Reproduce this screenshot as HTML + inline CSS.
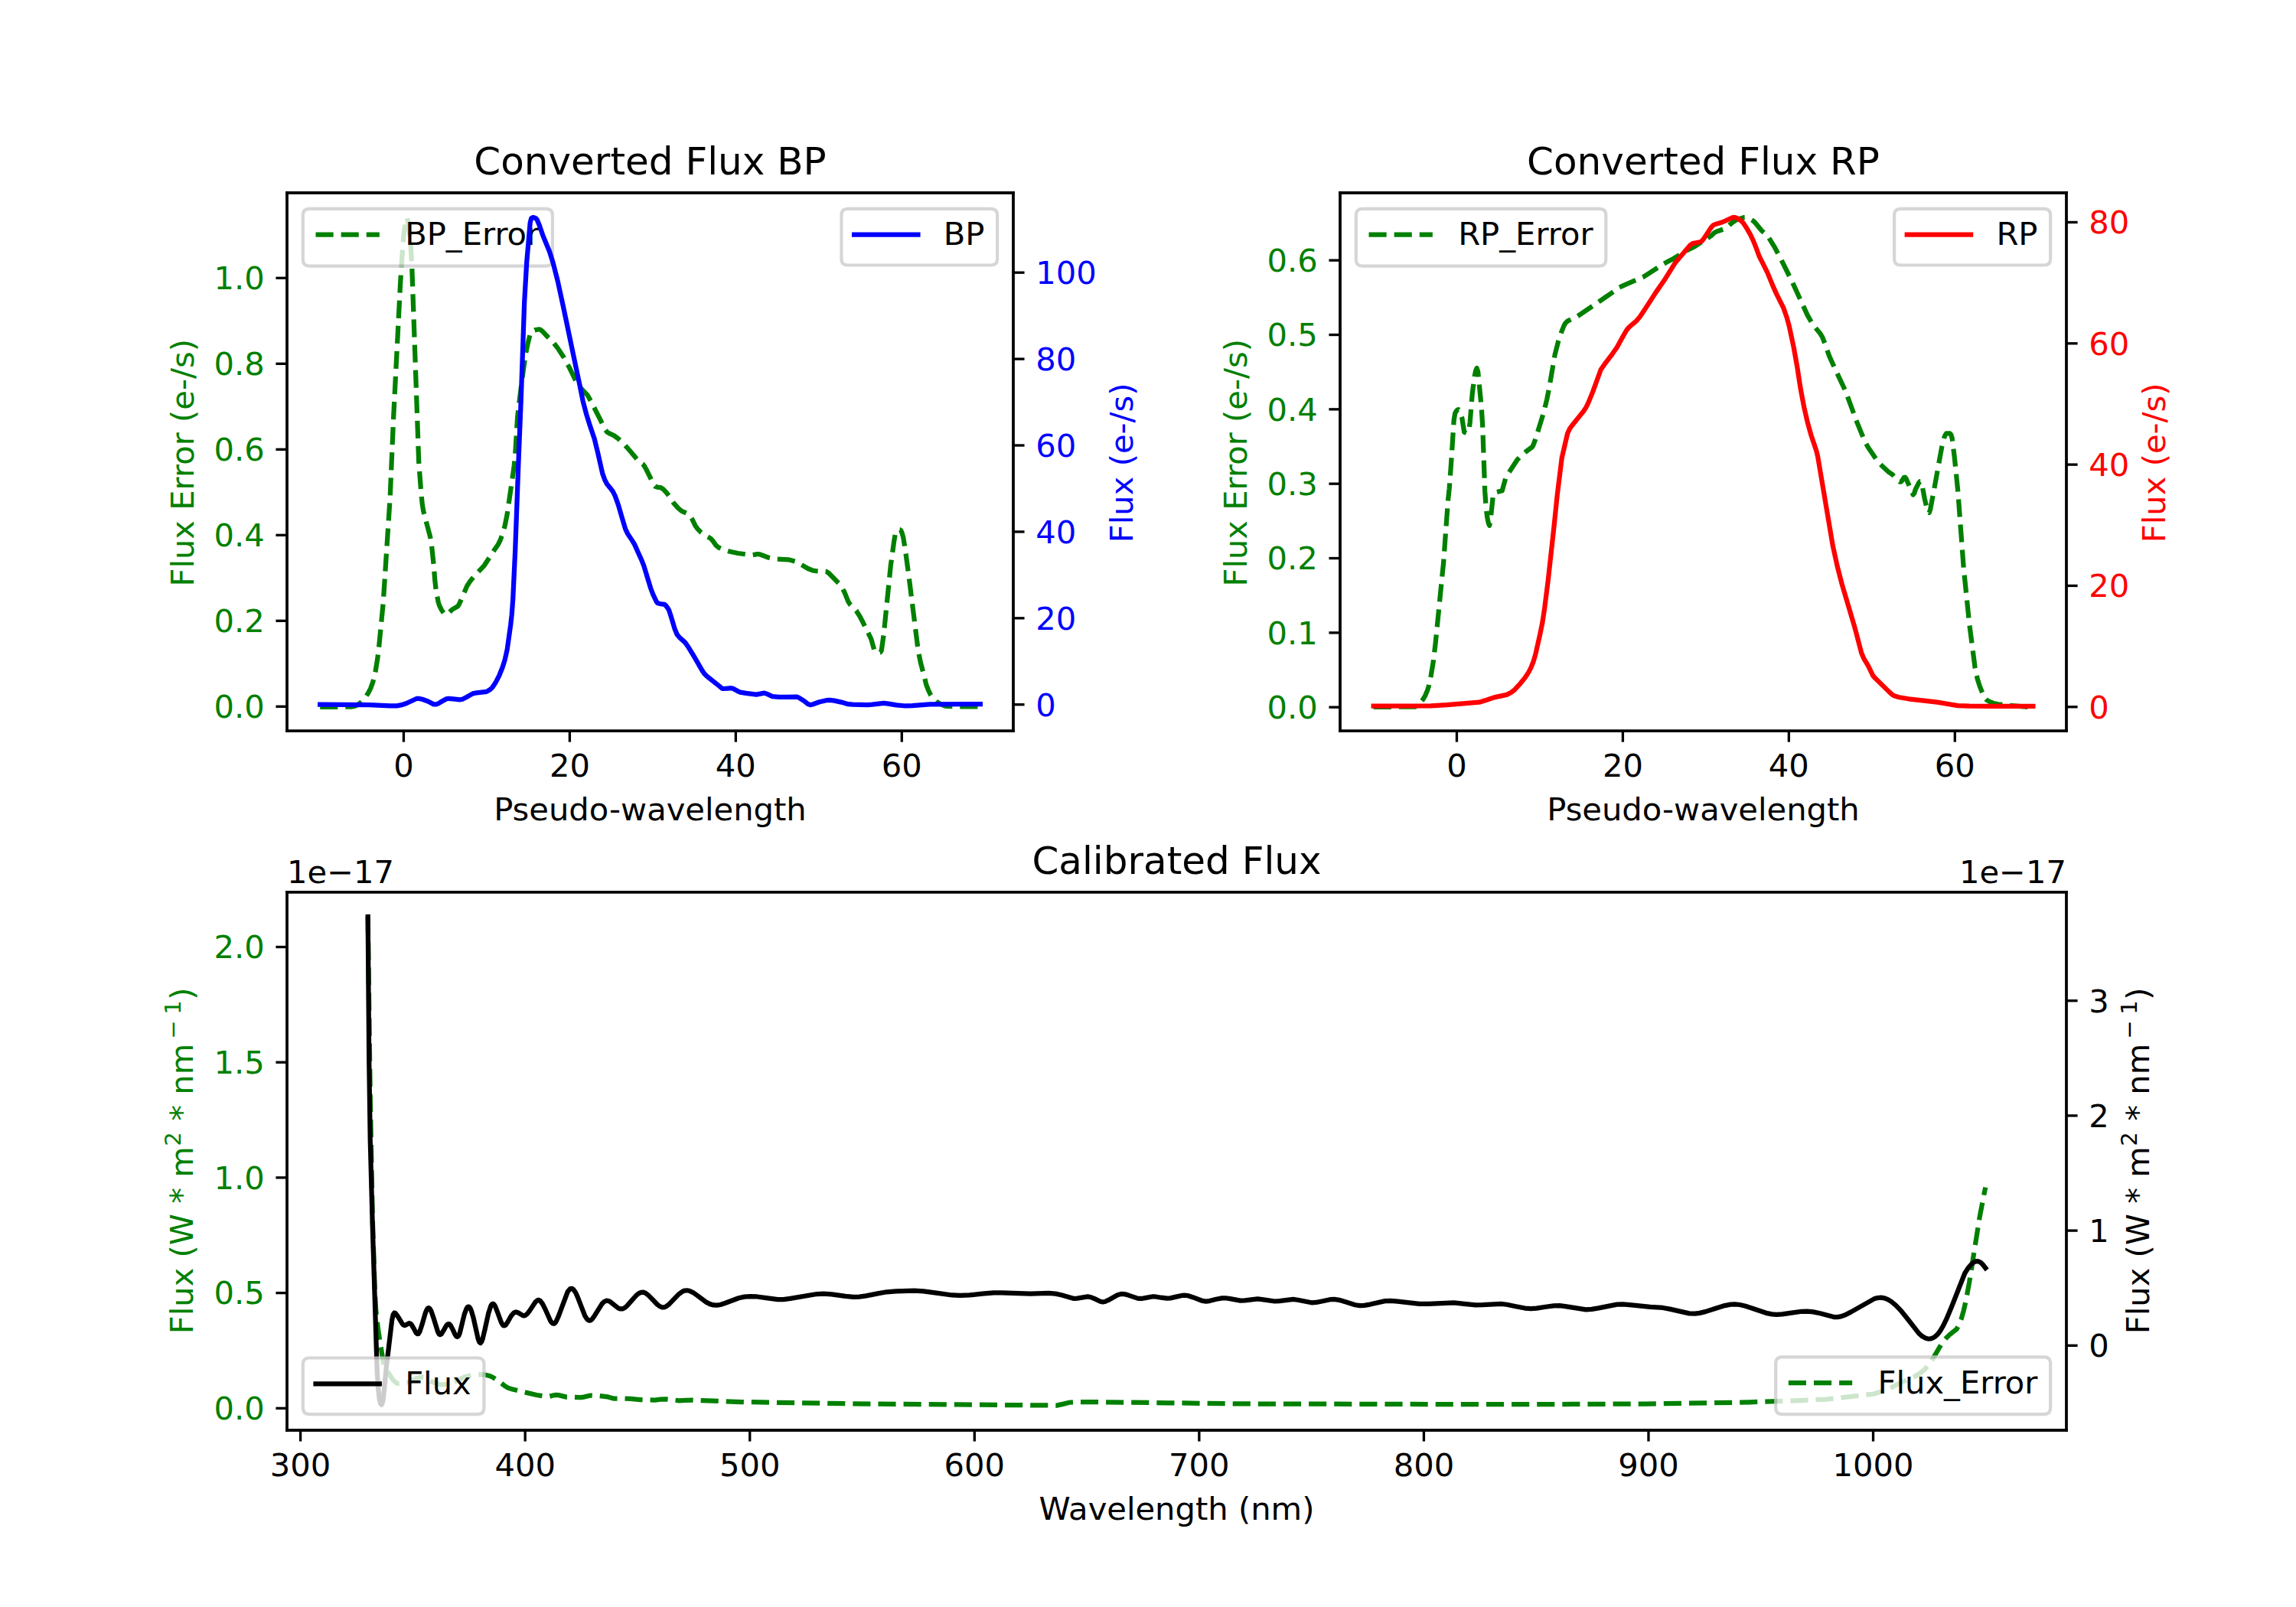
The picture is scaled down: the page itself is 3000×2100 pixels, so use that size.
<!DOCTYPE html>
<html><head><meta charset="utf-8"><title>Gaia XP spectra</title>
<style>html,body{margin:0;padding:0;background:#fff;width:3000px;height:2100px}svg{display:block}
svg text{font-family:"DejaVu Sans","Liberation Sans",sans-serif}</style></head>
<body>
<svg width="3000" height="2100" viewBox="0 0 720 504" version="1.1">
 <defs>
  <style type="text/css">*{stroke-linejoin: round; stroke-linecap: butt}</style>
 </defs>
 <g id="figure_1">
  <g id="patch_1">
   <path d="M 0 504 
L 720 504 
L 720 0 
L 0 0 
z
" style="fill: #ffffff"/>
  </g>
  <g id="axes_1">
   <g id="patch_2">
    <path d="M 90 229.210435 
L 317.755102 229.210435 
L 317.755102 60.48 
L 90 60.48 
z
" style="fill: #ffffff"/>
   </g>
   <g id="matplotlib.axis_1">
    <g id="xtick_1">
     <g id="line2d_1">
      <defs>
       <path id="m1504cfccaf" d="M 0 0 
L 0 3.5 
" style="stroke: #000000; stroke-width: 0.8"/>
      </defs>
      <g>
       <use href="#m1504cfccaf" x="126.583694" y="229.210435" style="stroke: #000000; stroke-width: 0.8"/>
      </g>
     </g>
     <g id="text_1">
      <text style="font-size: 10px; font-family: 'DejaVu Sans', 'Bitstream Vera Sans', 'Computer Modern Sans Serif', 'Lucida Grande', 'Verdana', 'Geneva', 'Lucid', 'Arial', 'Helvetica', 'Avant Garde', sans-serif; text-anchor: middle" x="126.583694" y="243.568872" transform="rotate(-0 126.583694 243.808872)">0</text>
     </g>
    </g>
    <g id="xtick_2">
     <g id="line2d_2">
      <g>
       <use href="#m1504cfccaf" x="178.652714" y="229.210435" style="stroke: #000000; stroke-width: 0.8"/>
      </g>
     </g>
     <g id="text_2">
      <text style="font-size: 10px; font-family: 'DejaVu Sans', 'Bitstream Vera Sans', 'Computer Modern Sans Serif', 'Lucida Grande', 'Verdana', 'Geneva', 'Lucid', 'Arial', 'Helvetica', 'Avant Garde', sans-serif; text-anchor: middle" x="178.652714" y="243.568872" transform="rotate(-0 178.652714 243.808872)">20</text>
     </g>
    </g>
    <g id="xtick_3">
     <g id="line2d_3">
      <g>
       <use href="#m1504cfccaf" x="230.721734" y="229.210435" style="stroke: #000000; stroke-width: 0.8"/>
      </g>
     </g>
     <g id="text_3">
      <text style="font-size: 10px; font-family: 'DejaVu Sans', 'Bitstream Vera Sans', 'Computer Modern Sans Serif', 'Lucida Grande', 'Verdana', 'Geneva', 'Lucid', 'Arial', 'Helvetica', 'Avant Garde', sans-serif; text-anchor: middle" x="230.721734" y="243.568872" transform="rotate(-0 230.721734 243.808872)">40</text>
     </g>
    </g>
    <g id="xtick_4">
     <g id="line2d_4">
      <g>
       <use href="#m1504cfccaf" x="282.790755" y="229.210435" style="stroke: #000000; stroke-width: 0.8"/>
      </g>
     </g>
     <g id="text_4">
      <text style="font-size: 10px; font-family: 'DejaVu Sans', 'Bitstream Vera Sans', 'Computer Modern Sans Serif', 'Lucida Grande', 'Verdana', 'Geneva', 'Lucid', 'Arial', 'Helvetica', 'Avant Garde', sans-serif; text-anchor: middle" x="282.790755" y="243.568872" transform="rotate(-0 282.790755 243.808872)">60</text>
     </g>
    </g>
    <g id="text_5">
     <text style="font-size: 10px; font-family: 'DejaVu Sans', 'Bitstream Vera Sans', 'Computer Modern Sans Serif', 'Lucida Grande', 'Verdana', 'Geneva', 'Lucid', 'Arial', 'Helvetica', 'Avant Garde', sans-serif; text-anchor: middle" x="203.877551" y="257.246997" transform="rotate(-0 203.877551 257.486997)">Pseudo-wavelength</text>
    </g>
   </g>
   <g id="matplotlib.axis_2">
    <g id="ytick_1">
     <g id="line2d_5">
      <defs>
       <path id="m5d545ce8f8" d="M 0 0 
L -3.5 0 
" style="stroke: #000000; stroke-width: 0.8"/>
      </defs>
      <g>
       <use href="#m5d545ce8f8" x="90" y="221.590351" style="stroke: #000000; stroke-width: 0.8"/>
      </g>
     </g>
     <g id="text_6">
      <text style="font-size: 10px; font-family: 'DejaVu Sans', 'Bitstream Vera Sans', 'Computer Modern Sans Serif', 'Lucida Grande', 'Verdana', 'Geneva', 'Lucid', 'Arial', 'Helvetica', 'Avant Garde', sans-serif; text-anchor: end; fill: #008000" x="83" y="225.149569" transform="rotate(-0 83 225.389569)">0.0</text>
     </g>
    </g>
    <g id="ytick_2">
     <g id="line2d_6">
      <g>
       <use href="#m5d545ce8f8" x="90" y="194.711747" style="stroke: #000000; stroke-width: 0.8"/>
      </g>
     </g>
     <g id="text_7">
      <text style="font-size: 10px; font-family: 'DejaVu Sans', 'Bitstream Vera Sans', 'Computer Modern Sans Serif', 'Lucida Grande', 'Verdana', 'Geneva', 'Lucid', 'Arial', 'Helvetica', 'Avant Garde', sans-serif; text-anchor: end; fill: #008000" x="83" y="198.270966" transform="rotate(-0 83 198.510966)">0.2</text>
     </g>
    </g>
    <g id="ytick_3">
     <g id="line2d_7">
      <g>
       <use href="#m5d545ce8f8" x="90" y="167.833143" style="stroke: #000000; stroke-width: 0.8"/>
      </g>
     </g>
     <g id="text_8">
      <text style="font-size: 10px; font-family: 'DejaVu Sans', 'Bitstream Vera Sans', 'Computer Modern Sans Serif', 'Lucida Grande', 'Verdana', 'Geneva', 'Lucid', 'Arial', 'Helvetica', 'Avant Garde', sans-serif; text-anchor: end; fill: #008000" x="83" y="171.392362" transform="rotate(-0 83 171.632362)">0.4</text>
     </g>
    </g>
    <g id="ytick_4">
     <g id="line2d_8">
      <g>
       <use href="#m5d545ce8f8" x="90" y="140.95454" style="stroke: #000000; stroke-width: 0.8"/>
      </g>
     </g>
     <g id="text_9">
      <text style="font-size: 10px; font-family: 'DejaVu Sans', 'Bitstream Vera Sans', 'Computer Modern Sans Serif', 'Lucida Grande', 'Verdana', 'Geneva', 'Lucid', 'Arial', 'Helvetica', 'Avant Garde', sans-serif; text-anchor: end; fill: #008000" x="83" y="144.513758" transform="rotate(-0 83 144.753758)">0.6</text>
     </g>
    </g>
    <g id="ytick_5">
     <g id="line2d_9">
      <g>
       <use href="#m5d545ce8f8" x="90" y="114.075936" style="stroke: #000000; stroke-width: 0.8"/>
      </g>
     </g>
     <g id="text_10">
      <text style="font-size: 10px; font-family: 'DejaVu Sans', 'Bitstream Vera Sans', 'Computer Modern Sans Serif', 'Lucida Grande', 'Verdana', 'Geneva', 'Lucid', 'Arial', 'Helvetica', 'Avant Garde', sans-serif; text-anchor: end; fill: #008000" x="83" y="117.635155" transform="rotate(-0 83 117.875155)">0.8</text>
     </g>
    </g>
    <g id="ytick_6">
     <g id="line2d_10">
      <g>
       <use href="#m5d545ce8f8" x="90" y="87.197332" style="stroke: #000000; stroke-width: 0.8"/>
      </g>
     </g>
     <g id="text_11">
      <text style="font-size: 10px; font-family: 'DejaVu Sans', 'Bitstream Vera Sans', 'Computer Modern Sans Serif', 'Lucida Grande', 'Verdana', 'Geneva', 'Lucid', 'Arial', 'Helvetica', 'Avant Garde', sans-serif; text-anchor: end; fill: #008000" x="83" y="90.756551" transform="rotate(-0 83 90.996551)">1.0</text>
     </g>
    </g>
    <g id="text_12">
     <text style="font-size: 10px; font-family: 'DejaVu Sans', 'Bitstream Vera Sans', 'Computer Modern Sans Serif', 'Lucida Grande', 'Verdana', 'Geneva', 'Lucid', 'Arial', 'Helvetica', 'Avant Garde', sans-serif; text-anchor: middle; fill: #008000" x="60.707187" y="144.585217" transform="rotate(-90 61.017187 144.845217)">Flux Error (e-/s)</text>
    </g>
   </g>
   <g id="line2d_11">
    <path d="M 100.368 221.76 
L 110.088 221.655178 
L 111.168 221.508845 
L 111.888 221.192961 
L 112.968 220.471479 
L 113.688 219.787422 
L 114.768 218.418411 
L 115.488 217.316316 
L 116.208 215.892247 
L 116.928 213.947387 
L 117.648 211.105218 
L 118.368 206.724656 
L 118.728 203.964343 
L 120.168 189.102628 
L 122.328 155.94197 
L 123.408 130.761785 
L 125.568 88.531107 
L 126.288 77.512393 
L 126.648 73.215224 
L 127.008 70.425944 
L 127.368 68.554598 
L 127.728 68.409049 
L 128.088 70.534382 
L 128.448 73.397041 
L 128.808 77.446902 
L 129.168 83.462753 
L 131.328 144.846391 
L 132.048 154.422937 
L 132.408 158.039605 
L 132.768 160.272798 
L 133.488 163.029381 
L 134.928 168.414095 
L 135.288 170.446313 
L 136.008 177.175679 
L 136.368 181.844231 
L 136.728 185.059531 
L 137.448 188.836722 
L 137.808 190.006542 
L 138.528 191.411108 
L 139.248 192.41304 
L 139.608 192.68731 
L 139.968 192.76563 
L 140.328 192.615759 
L 141.048 191.894228 
L 141.768 191.200002 
L 143.568 190.15223 
L 143.928 189.611402 
L 145.368 186.339021 
L 146.448 183.797256 
L 147.528 182.139603 
L 148.968 180.41494 
L 151.848 177.37005 
L 155.088 172.385348 
L 156.168 170.83166 
L 156.888 169.380272 
L 157.608 167.429242 
L 158.328 164.854128 
L 159.048 161.238534 
L 160.848 148.774904 
L 161.208 146.189763 
L 161.568 142.496314 
L 162.288 130.708738 
L 163.008 124.618104 
L 164.088 116.330141 
L 164.808 111.168 
L 165.528 107.721038 
L 166.248 104.827228 
L 166.608 104.024917 
L 167.688 103.51768 
L 168.768 103.308834 
L 169.128 103.296 
L 169.488 103.396329 
L 170.208 104.027973 
L 171.648 105.541509 
L 173.448 107.342105 
L 174.888 109.162265 
L 176.688 111.90978 
L 178.488 115.181159 
L 179.568 117.398652 
L 181.008 120.384834 
L 181.728 121.33147 
L 184.248 123.943258 
L 185.328 125.867088 
L 188.208 131.54164 
L 189.648 134.519329 
L 190.368 135.493028 
L 191.088 135.936625 
L 192.528 136.589534 
L 193.968 137.66324 
L 195.768 139.344898 
L 197.208 141.007654 
L 200.088 144.44111 
L 200.808 145.079894 
L 201.528 145.522684 
L 201.888 145.905877 
L 202.608 147.118859 
L 205.128 152.183891 
L 205.488 152.60154 
L 206.208 152.788612 
L 207.288 152.95744 
L 208.008 153.428861 
L 209.088 154.592779 
L 209.808 155.548397 
L 211.248 157.776 
L 212.688 159.391359 
L 213.768 160.281067 
L 214.848 160.753413 
L 215.928 161.230223 
L 216.288 161.534457 
L 217.008 162.763662 
L 218.088 164.990066 
L 218.808 165.934827 
L 219.888 167.016355 
L 220.968 167.798561 
L 222.768 168.805365 
L 223.488 169.563078 
L 224.568 171.099812 
L 225.288 171.671008 
L 226.728 172.330839 
L 228.888 172.994396 
L 231.408 173.514858 
L 234.288 173.900687 
L 236.088 174.02389 
L 236.808 173.916621 
L 237.528 173.766526 
L 238.248 173.834615 
L 239.328 174.240381 
L 240.768 174.804063 
L 242.928 175.283178 
L 247.248 175.510386 
L 249.408 176.061892 
L 250.128 176.394662 
L 253.368 178.32243 
L 254.808 178.912502 
L 255.888 179.06993 
L 259.128 179.242281 
L 259.848 179.707401 
L 263.088 183.017511 
L 264.168 184.458608 
L 264.888 185.886706 
L 265.968 188.625646 
L 266.688 189.698781 
L 268.488 191.534031 
L 269.568 193.198878 
L 270.648 195.243124 
L 273.168 200.364544 
L 274.248 204.198318 
L 274.608 204.566792 
L 275.328 204.719458 
L 276.048 204.581647 
L 276.408 204.10418 
L 277.128 198.987981 
L 278.568 184.696914 
L 279.288 177.576 
L 280.368 169.717014 
L 280.728 167.57153 
L 281.088 166.752598 
L 281.448 166.240876 
L 281.808 166.080583 
L 282.168 166.118025 
L 282.528 166.335997 
L 282.888 167.229536 
L 283.248 168.494254 
L 283.968 173.033744 
L 285.048 181.060428 
L 287.928 204.026548 
L 288.648 207.620808 
L 289.728 211.709242 
L 290.448 214.700541 
L 291.168 216.578775 
L 291.888 218.010958 
L 292.608 219.004625 
L 293.688 220.049352 
L 294.768 220.740459 
L 296.208 221.379255 
L 296.928 221.518714 
L 301.608 221.638521 
L 307.416 221.64 
L 307.416 221.64 
" clip-path="url(#ped18cb847b)" style="fill: none; stroke-dasharray: 5.55,2.4; stroke-dashoffset: 0; stroke: #008000; stroke-width: 1.5"/>
   </g>
   <g id="patch_3">
    <path d="M 90 229.210435 
L 90 60.48 
" style="fill: none; stroke: #000000; stroke-width: 0.8; stroke-linejoin: miter; stroke-linecap: square"/>
   </g>
   <g id="patch_4">
    <path d="M 317.755102 229.210435 
L 317.755102 60.48 
" style="fill: none; stroke: #000000; stroke-width: 0.8; stroke-linejoin: miter; stroke-linecap: square"/>
   </g>
   <g id="patch_5">
    <path d="M 90 229.210435 
L 317.755102 229.210435 
" style="fill: none; stroke: #000000; stroke-width: 0.8; stroke-linejoin: miter; stroke-linecap: square"/>
   </g>
   <g id="patch_6">
    <path d="M 90 60.48 
L 317.755102 60.48 
" style="fill: none; stroke: #000000; stroke-width: 0.8; stroke-linejoin: miter; stroke-linecap: square"/>
   </g>
   <g id="text_13">
    <text style="font-size: 12px; font-family: 'DejaVu Sans', 'Bitstream Vera Sans', 'Computer Modern Sans Serif', 'Lucida Grande', 'Verdana', 'Geneva', 'Lucid', 'Arial', 'Helvetica', 'Avant Garde', sans-serif; text-anchor: middle" x="203.877551" y="54.680000" transform="rotate(-0 203.877551 54.48)">Converted Flux BP</text>
   </g>
   <g id="legend_1">
    <g id="patch_7">
     <path d="M 97 83.43625 
L 171.260938 83.43625 
Q 173.260938 83.43625 173.260938 81.43625 
L 173.260938 67.48 
Q 173.260938 65.48 171.260938 65.48 
L 97 65.48 
Q 95 65.48 95 67.48 
L 95 81.43625 
Q 95 83.43625 97 83.43625 
z
" style="fill: #ffffff; opacity: 0.8; stroke: #cccccc; stroke-linejoin: miter"/>
    </g>
    <g id="line2d_12">
     <path d="M 99 73.578438 
L 109 73.578438 
L 119 73.578438 
" style="fill: none; stroke-dasharray: 5.55,2.4; stroke-dashoffset: 0; stroke: #008000; stroke-width: 1.5"/>
    </g>
    <g id="text_14">
     <text style="font-size: 10px; font-family: 'DejaVu Sans', 'Bitstream Vera Sans', 'Computer Modern Sans Serif', 'Lucida Grande', 'Verdana', 'Geneva', 'Lucid', 'Arial', 'Helvetica', 'Avant Garde', sans-serif; text-anchor: start" x="127" y="76.838438" transform="rotate(-0 127 77.078438)">BP_Error</text>
    </g>
   </g>
  </g>
  <g id="axes_2">
   <g id="patch_8">
    <path d="M 420.244898 229.210435 
L 648 229.210435 
L 648 60.48 
L 420.244898 60.48 
z
" style="fill: #ffffff"/>
   </g>
   <g id="matplotlib.axis_3">
    <g id="xtick_5">
     <g id="line2d_13">
      <g>
       <use href="#m1504cfccaf" x="456.828592" y="229.210435" style="stroke: #000000; stroke-width: 0.8"/>
      </g>
     </g>
     <g id="text_15">
      <text style="font-size: 10px; font-family: 'DejaVu Sans', 'Bitstream Vera Sans', 'Computer Modern Sans Serif', 'Lucida Grande', 'Verdana', 'Geneva', 'Lucid', 'Arial', 'Helvetica', 'Avant Garde', sans-serif; text-anchor: middle" x="456.828592" y="243.568872" transform="rotate(-0 456.828592 243.808872)">0</text>
     </g>
    </g>
    <g id="xtick_6">
     <g id="line2d_14">
      <g>
       <use href="#m1504cfccaf" x="508.897612" y="229.210435" style="stroke: #000000; stroke-width: 0.8"/>
      </g>
     </g>
     <g id="text_16">
      <text style="font-size: 10px; font-family: 'DejaVu Sans', 'Bitstream Vera Sans', 'Computer Modern Sans Serif', 'Lucida Grande', 'Verdana', 'Geneva', 'Lucid', 'Arial', 'Helvetica', 'Avant Garde', sans-serif; text-anchor: middle" x="508.897612" y="243.568872" transform="rotate(-0 508.897612 243.808872)">20</text>
     </g>
    </g>
    <g id="xtick_7">
     <g id="line2d_15">
      <g>
       <use href="#m1504cfccaf" x="560.966632" y="229.210435" style="stroke: #000000; stroke-width: 0.8"/>
      </g>
     </g>
     <g id="text_17">
      <text style="font-size: 10px; font-family: 'DejaVu Sans', 'Bitstream Vera Sans', 'Computer Modern Sans Serif', 'Lucida Grande', 'Verdana', 'Geneva', 'Lucid', 'Arial', 'Helvetica', 'Avant Garde', sans-serif; text-anchor: middle" x="560.966632" y="243.568872" transform="rotate(-0 560.966632 243.808872)">40</text>
     </g>
    </g>
    <g id="xtick_8">
     <g id="line2d_16">
      <g>
       <use href="#m1504cfccaf" x="613.035653" y="229.210435" style="stroke: #000000; stroke-width: 0.8"/>
      </g>
     </g>
     <g id="text_18">
      <text style="font-size: 10px; font-family: 'DejaVu Sans', 'Bitstream Vera Sans', 'Computer Modern Sans Serif', 'Lucida Grande', 'Verdana', 'Geneva', 'Lucid', 'Arial', 'Helvetica', 'Avant Garde', sans-serif; text-anchor: middle" x="613.035653" y="243.568872" transform="rotate(-0 613.035653 243.808872)">60</text>
     </g>
    </g>
    <g id="text_19">
     <text style="font-size: 10px; font-family: 'DejaVu Sans', 'Bitstream Vera Sans', 'Computer Modern Sans Serif', 'Lucida Grande', 'Verdana', 'Geneva', 'Lucid', 'Arial', 'Helvetica', 'Avant Garde', sans-serif; text-anchor: middle" x="534.122449" y="257.246997" transform="rotate(-0 534.122449 257.486997)">Pseudo-wavelength</text>
    </g>
   </g>
   <g id="matplotlib.axis_4">
    <g id="ytick_7">
     <g id="line2d_17">
      <g>
       <use href="#m5d545ce8f8" x="420.244898" y="221.805264" style="stroke: #000000; stroke-width: 0.8"/>
      </g>
     </g>
     <g id="text_20">
      <text style="font-size: 10px; font-family: 'DejaVu Sans', 'Bitstream Vera Sans', 'Computer Modern Sans Serif', 'Lucida Grande', 'Verdana', 'Geneva', 'Lucid', 'Arial', 'Helvetica', 'Avant Garde', sans-serif; text-anchor: end; fill: #008000" x="413.244898" y="225.364483" transform="rotate(-0 413.244898 225.604483)">0.0</text>
     </g>
    </g>
    <g id="ytick_8">
     <g id="line2d_18">
      <g>
       <use href="#m5d545ce8f8" x="420.244898" y="198.445104" style="stroke: #000000; stroke-width: 0.8"/>
      </g>
     </g>
     <g id="text_21">
      <text style="font-size: 10px; font-family: 'DejaVu Sans', 'Bitstream Vera Sans', 'Computer Modern Sans Serif', 'Lucida Grande', 'Verdana', 'Geneva', 'Lucid', 'Arial', 'Helvetica', 'Avant Garde', sans-serif; text-anchor: end; fill: #008000" x="413.244898" y="202.004323" transform="rotate(-0 413.244898 202.244323)">0.1</text>
     </g>
    </g>
    <g id="ytick_9">
     <g id="line2d_19">
      <g>
       <use href="#m5d545ce8f8" x="420.244898" y="175.084944" style="stroke: #000000; stroke-width: 0.8"/>
      </g>
     </g>
     <g id="text_22">
      <text style="font-size: 10px; font-family: 'DejaVu Sans', 'Bitstream Vera Sans', 'Computer Modern Sans Serif', 'Lucida Grande', 'Verdana', 'Geneva', 'Lucid', 'Arial', 'Helvetica', 'Avant Garde', sans-serif; text-anchor: end; fill: #008000" x="413.244898" y="178.644163" transform="rotate(-0 413.244898 178.884163)">0.2</text>
     </g>
    </g>
    <g id="ytick_10">
     <g id="line2d_20">
      <g>
       <use href="#m5d545ce8f8" x="420.244898" y="151.724784" style="stroke: #000000; stroke-width: 0.8"/>
      </g>
     </g>
     <g id="text_23">
      <text style="font-size: 10px; font-family: 'DejaVu Sans', 'Bitstream Vera Sans', 'Computer Modern Sans Serif', 'Lucida Grande', 'Verdana', 'Geneva', 'Lucid', 'Arial', 'Helvetica', 'Avant Garde', sans-serif; text-anchor: end; fill: #008000" x="413.244898" y="155.284003" transform="rotate(-0 413.244898 155.524003)">0.3</text>
     </g>
    </g>
    <g id="ytick_11">
     <g id="line2d_21">
      <g>
       <use href="#m5d545ce8f8" x="420.244898" y="128.364625" style="stroke: #000000; stroke-width: 0.8"/>
      </g>
     </g>
     <g id="text_24">
      <text style="font-size: 10px; font-family: 'DejaVu Sans', 'Bitstream Vera Sans', 'Computer Modern Sans Serif', 'Lucida Grande', 'Verdana', 'Geneva', 'Lucid', 'Arial', 'Helvetica', 'Avant Garde', sans-serif; text-anchor: end; fill: #008000" x="413.244898" y="131.923843" transform="rotate(-0 413.244898 132.163843)">0.4</text>
     </g>
    </g>
    <g id="ytick_12">
     <g id="line2d_22">
      <g>
       <use href="#m5d545ce8f8" x="420.244898" y="105.004465" style="stroke: #000000; stroke-width: 0.8"/>
      </g>
     </g>
     <g id="text_25">
      <text style="font-size: 10px; font-family: 'DejaVu Sans', 'Bitstream Vera Sans', 'Computer Modern Sans Serif', 'Lucida Grande', 'Verdana', 'Geneva', 'Lucid', 'Arial', 'Helvetica', 'Avant Garde', sans-serif; text-anchor: end; fill: #008000" x="413.244898" y="108.563683" transform="rotate(-0 413.244898 108.803683)">0.5</text>
     </g>
    </g>
    <g id="ytick_13">
     <g id="line2d_23">
      <g>
       <use href="#m5d545ce8f8" x="420.244898" y="81.644305" style="stroke: #000000; stroke-width: 0.8"/>
      </g>
     </g>
     <g id="text_26">
      <text style="font-size: 10px; font-family: 'DejaVu Sans', 'Bitstream Vera Sans', 'Computer Modern Sans Serif', 'Lucida Grande', 'Verdana', 'Geneva', 'Lucid', 'Arial', 'Helvetica', 'Avant Garde', sans-serif; text-anchor: end; fill: #008000" x="413.244898" y="85.203524" transform="rotate(-0 413.244898 85.443524)">0.6</text>
     </g>
    </g>
    <g id="text_27">
     <text style="font-size: 10px; font-family: 'DejaVu Sans', 'Bitstream Vera Sans', 'Computer Modern Sans Serif', 'Lucida Grande', 'Verdana', 'Geneva', 'Lucid', 'Arial', 'Helvetica', 'Avant Garde', sans-serif; text-anchor: middle; fill: #008000" x="390.952085" y="144.585217" transform="rotate(-90 391.262085 144.845217)">Flux Error (e-/s)</text>
    </g>
   </g>
   <g id="line2d_24">
    <path d="M 430.728 221.712 
L 443.688 221.685042 
L 444.408 221.324688 
L 445.128 220.660631 
L 446.208 219.397143 
L 446.928 218.170789 
L 447.648 216.454757 
L 448.008 215.318401 
L 448.728 211.939174 
L 449.448 207.633169 
L 450.168 201.595428 
L 452.328 179.824576 
L 452.688 176.374177 
L 453.408 166.110347 
L 454.128 156.480732 
L 454.488 153.176607 
L 455.208 143.238397 
L 455.928 131.794642 
L 456.288 129.623477 
L 456.648 128.970253 
L 457.008 128.575409 
L 457.368 128.426057 
L 457.728 128.743746 
L 458.448 130.968 
L 459.168 135.524733 
L 459.888 135.837226 
L 460.248 135.722774 
L 460.608 135.255944 
L 460.968 132.503805 
L 461.688 123.536761 
L 462.408 117.946849 
L 462.768 116.224955 
L 463.128 115.463067 
L 463.488 116.679712 
L 464.568 127.725828 
L 464.928 133.461536 
L 465.648 154.074729 
L 466.008 159.215642 
L 466.368 162.165282 
L 466.728 163.962427 
L 467.088 164.821712 
L 467.448 162.796169 
L 468.168 155.830088 
L 468.528 154.726922 
L 469.248 154.362373 
L 471.048 153.917548 
L 472.128 150.051348 
L 472.848 148.713131 
L 475.728 144.291858 
L 476.808 143.120458 
L 478.608 141.57072 
L 480.408 140.251484 
L 480.768 139.724852 
L 481.488 137.780178 
L 484.008 129.634798 
L 485.088 125.262609 
L 485.808 121.668777 
L 487.608 111.168 
L 488.688 106.970889 
L 489.768 103.819247 
L 490.488 102.04535 
L 490.848 101.393108 
L 491.568 100.701253 
L 492.648 100.153371 
L 494.448 99.354299 
L 496.608 97.910267 
L 503.448 93.228264 
L 505.248 91.987601 
L 507.768 90.164834 
L 509.208 89.474757 
L 515.328 86.869524 
L 517.128 85.727028 
L 521.448 82.884535 
L 523.248 81.92697 
L 524.688 81.157421 
L 529.008 78.506646 
L 531.528 77.249005 
L 536.568 73.972906 
L 537.648 72.960331 
L 538.368 72.612291 
L 541.248 71.610602 
L 542.328 70.568231 
L 543.408 69.676512 
L 544.488 68.981674 
L 545.568 68.562363 
L 547.008 68.196755 
L 547.728 68.171247 
L 548.448 68.388949 
L 549.528 69.074758 
L 550.248 69.660448 
L 552.408 72.305498 
L 553.848 73.514394 
L 554.568 74.38687 
L 556.368 77.306474 
L 558.168 80.598235 
L 562.128 88.623764 
L 566.808 98.861144 
L 568.248 101.370432 
L 569.328 102.817746 
L 570.768 104.568898 
L 571.488 105.761288 
L 572.208 107.60328 
L 573.648 111.690206 
L 575.448 115.65905 
L 578.688 122.534905 
L 582.288 132.331095 
L 584.808 138.470622 
L 585.888 140.40537 
L 588.768 144.648049 
L 589.848 145.788578 
L 592.368 148.127042 
L 593.448 148.828381 
L 594.528 150.045529 
L 595.248 150.799296 
L 595.608 151.04428 
L 595.968 151.150396 
L 596.328 150.923723 
L 597.048 149.781169 
L 597.408 149.676946 
L 597.768 150.157696 
L 599.928 155.170594 
L 600.288 154.74391 
L 600.648 153.536723 
L 601.728 151.388443 
L 602.088 151.004707 
L 602.448 150.997442 
L 602.808 152.460579 
L 603.528 156.331702 
L 604.248 159.44885 
L 604.608 160.516101 
L 604.968 160.788781 
L 605.328 159.763461 
L 606.768 152.104256 
L 608.928 140.206179 
L 609.648 137.310871 
L 610.008 136.426196 
L 610.368 135.914716 
L 611.448 135.912 
L 611.808 136.32945 
L 612.168 137.473098 
L 612.888 143.235461 
L 613.968 153.879956 
L 615.768 178.068163 
L 617.568 195.671892 
L 619.368 209.568 
L 620.088 212.884301 
L 620.808 215.197191 
L 622.248 218.722117 
L 622.968 219.509877 
L 624.048 220.137699 
L 625.128 220.552306 
L 626.568 220.858564 
L 629.448 221.203082 
L 635.208 221.688499 
L 637.536 221.76 
L 637.536 221.76 
" clip-path="url(#p2e5e7b1a41)" style="fill: none; stroke-dasharray: 5.55,2.4; stroke-dashoffset: 0; stroke: #008000; stroke-width: 1.5"/>
   </g>
   <g id="patch_9">
    <path d="M 420.244898 229.210435 
L 420.244898 60.48 
" style="fill: none; stroke: #000000; stroke-width: 0.8; stroke-linejoin: miter; stroke-linecap: square"/>
   </g>
   <g id="patch_10">
    <path d="M 648 229.210435 
L 648 60.48 
" style="fill: none; stroke: #000000; stroke-width: 0.8; stroke-linejoin: miter; stroke-linecap: square"/>
   </g>
   <g id="patch_11">
    <path d="M 420.244898 229.210435 
L 648 229.210435 
" style="fill: none; stroke: #000000; stroke-width: 0.8; stroke-linejoin: miter; stroke-linecap: square"/>
   </g>
   <g id="patch_12">
    <path d="M 420.244898 60.48 
L 648 60.48 
" style="fill: none; stroke: #000000; stroke-width: 0.8; stroke-linejoin: miter; stroke-linecap: square"/>
   </g>
   <g id="text_28">
    <text style="font-size: 12px; font-family: 'DejaVu Sans', 'Bitstream Vera Sans', 'Computer Modern Sans Serif', 'Lucida Grande', 'Verdana', 'Geneva', 'Lucid', 'Arial', 'Helvetica', 'Avant Garde', sans-serif; text-anchor: middle" x="534.122449" y="54.680000" transform="rotate(-0 534.122449 54.48)">Converted Flux RP</text>
   </g>
   <g id="legend_2">
    <g id="patch_13">
     <path d="M 427.244898 83.43625 
L 501.593335 83.43625 
Q 503.593335 83.43625 503.593335 81.43625 
L 503.593335 67.48 
Q 503.593335 65.48 501.593335 65.48 
L 427.244898 65.48 
Q 425.244898 65.48 425.244898 67.48 
L 425.244898 81.43625 
Q 425.244898 83.43625 427.244898 83.43625 
z
" style="fill: #ffffff; opacity: 0.8; stroke: #cccccc; stroke-linejoin: miter"/>
    </g>
    <g id="line2d_25">
     <path d="M 429.244898 73.578438 
L 439.244898 73.578438 
L 449.244898 73.578438 
" style="fill: none; stroke-dasharray: 5.55,2.4; stroke-dashoffset: 0; stroke: #008000; stroke-width: 1.5"/>
    </g>
    <g id="text_29">
     <text style="font-size: 10px; font-family: 'DejaVu Sans', 'Bitstream Vera Sans', 'Computer Modern Sans Serif', 'Lucida Grande', 'Verdana', 'Geneva', 'Lucid', 'Arial', 'Helvetica', 'Avant Garde', sans-serif; text-anchor: start" x="457.244898" y="76.838438" transform="rotate(-0 457.244898 77.078438)">RP_Error</text>
    </g>
   </g>
  </g>
  <g id="axes_3">
   <g id="patch_14">
    <path d="M 90 448.56 
L 648 448.56 
L 648 279.829565 
L 90 279.829565 
z
" style="fill: #ffffff"/>
   </g>
   <g id="matplotlib.axis_5">
    <g id="xtick_9">
     <g id="line2d_26">
      <g>
       <use href="#m1504cfccaf" x="94.227273" y="448.56" style="stroke: #000000; stroke-width: 0.8"/>
      </g>
     </g>
     <g id="text_30">
      <text style="font-size: 10px; font-family: 'DejaVu Sans', 'Bitstream Vera Sans', 'Computer Modern Sans Serif', 'Lucida Grande', 'Verdana', 'Geneva', 'Lucid', 'Arial', 'Helvetica', 'Avant Garde', sans-serif; text-anchor: middle" x="94.227273" y="462.918437" transform="rotate(-0 94.227273 463.158437)">300</text>
     </g>
    </g>
    <g id="xtick_10">
     <g id="line2d_27">
      <g>
       <use href="#m1504cfccaf" x="164.681818" y="448.56" style="stroke: #000000; stroke-width: 0.8"/>
      </g>
     </g>
     <g id="text_31">
      <text style="font-size: 10px; font-family: 'DejaVu Sans', 'Bitstream Vera Sans', 'Computer Modern Sans Serif', 'Lucida Grande', 'Verdana', 'Geneva', 'Lucid', 'Arial', 'Helvetica', 'Avant Garde', sans-serif; text-anchor: middle" x="164.681818" y="462.918437" transform="rotate(-0 164.681818 463.158437)">400</text>
     </g>
    </g>
    <g id="xtick_11">
     <g id="line2d_28">
      <g>
       <use href="#m1504cfccaf" x="235.136364" y="448.56" style="stroke: #000000; stroke-width: 0.8"/>
      </g>
     </g>
     <g id="text_32">
      <text style="font-size: 10px; font-family: 'DejaVu Sans', 'Bitstream Vera Sans', 'Computer Modern Sans Serif', 'Lucida Grande', 'Verdana', 'Geneva', 'Lucid', 'Arial', 'Helvetica', 'Avant Garde', sans-serif; text-anchor: middle" x="235.136364" y="462.918437" transform="rotate(-0 235.136364 463.158437)">500</text>
     </g>
    </g>
    <g id="xtick_12">
     <g id="line2d_29">
      <g>
       <use href="#m1504cfccaf" x="305.590909" y="448.56" style="stroke: #000000; stroke-width: 0.8"/>
      </g>
     </g>
     <g id="text_33">
      <text style="font-size: 10px; font-family: 'DejaVu Sans', 'Bitstream Vera Sans', 'Computer Modern Sans Serif', 'Lucida Grande', 'Verdana', 'Geneva', 'Lucid', 'Arial', 'Helvetica', 'Avant Garde', sans-serif; text-anchor: middle" x="305.590909" y="462.918437" transform="rotate(-0 305.590909 463.158437)">600</text>
     </g>
    </g>
    <g id="xtick_13">
     <g id="line2d_30">
      <g>
       <use href="#m1504cfccaf" x="376.045455" y="448.56" style="stroke: #000000; stroke-width: 0.8"/>
      </g>
     </g>
     <g id="text_34">
      <text style="font-size: 10px; font-family: 'DejaVu Sans', 'Bitstream Vera Sans', 'Computer Modern Sans Serif', 'Lucida Grande', 'Verdana', 'Geneva', 'Lucid', 'Arial', 'Helvetica', 'Avant Garde', sans-serif; text-anchor: middle" x="376.045455" y="462.918437" transform="rotate(-0 376.045455 463.158437)">700</text>
     </g>
    </g>
    <g id="xtick_14">
     <g id="line2d_31">
      <g>
       <use href="#m1504cfccaf" x="446.5" y="448.56" style="stroke: #000000; stroke-width: 0.8"/>
      </g>
     </g>
     <g id="text_35">
      <text style="font-size: 10px; font-family: 'DejaVu Sans', 'Bitstream Vera Sans', 'Computer Modern Sans Serif', 'Lucida Grande', 'Verdana', 'Geneva', 'Lucid', 'Arial', 'Helvetica', 'Avant Garde', sans-serif; text-anchor: middle" x="446.5" y="462.918437" transform="rotate(-0 446.5 463.158437)">800</text>
     </g>
    </g>
    <g id="xtick_15">
     <g id="line2d_32">
      <g>
       <use href="#m1504cfccaf" x="516.954545" y="448.56" style="stroke: #000000; stroke-width: 0.8"/>
      </g>
     </g>
     <g id="text_36">
      <text style="font-size: 10px; font-family: 'DejaVu Sans', 'Bitstream Vera Sans', 'Computer Modern Sans Serif', 'Lucida Grande', 'Verdana', 'Geneva', 'Lucid', 'Arial', 'Helvetica', 'Avant Garde', sans-serif; text-anchor: middle" x="516.954545" y="462.918437" transform="rotate(-0 516.954545 463.158437)">900</text>
     </g>
    </g>
    <g id="xtick_16">
     <g id="line2d_33">
      <g>
       <use href="#m1504cfccaf" x="587.409091" y="448.56" style="stroke: #000000; stroke-width: 0.8"/>
      </g>
     </g>
     <g id="text_37">
      <text style="font-size: 10px; font-family: 'DejaVu Sans', 'Bitstream Vera Sans', 'Computer Modern Sans Serif', 'Lucida Grande', 'Verdana', 'Geneva', 'Lucid', 'Arial', 'Helvetica', 'Avant Garde', sans-serif; text-anchor: middle" x="587.409091" y="462.918437" transform="rotate(-0 587.409091 463.158437)">1000</text>
     </g>
    </g>
    <g id="text_38">
     <text style="font-size: 10px; font-family: 'DejaVu Sans', 'Bitstream Vera Sans', 'Computer Modern Sans Serif', 'Lucida Grande', 'Verdana', 'Geneva', 'Lucid', 'Arial', 'Helvetica', 'Avant Garde', sans-serif; text-anchor: middle" x="369" y="476.596563" transform="rotate(-0 369 476.836563)">Wavelength (nm)</text>
    </g>
   </g>
   <g id="matplotlib.axis_6">
    <g id="ytick_14">
     <g id="line2d_34">
      <g>
       <use href="#m5d545ce8f8" x="90" y="441.673634" style="stroke: #000000; stroke-width: 0.8"/>
      </g>
     </g>
     <g id="text_39">
      <text style="font-size: 10px; font-family: 'DejaVu Sans', 'Bitstream Vera Sans', 'Computer Modern Sans Serif', 'Lucida Grande', 'Verdana', 'Geneva', 'Lucid', 'Arial', 'Helvetica', 'Avant Garde', sans-serif; text-anchor: end; fill: #008000" x="83" y="445.232853" transform="rotate(-0 83 445.472853)">0.0</text>
     </g>
    </g>
    <g id="ytick_15">
     <g id="line2d_35">
      <g>
       <use href="#m5d545ce8f8" x="90" y="405.505745" style="stroke: #000000; stroke-width: 0.8"/>
      </g>
     </g>
     <g id="text_40">
      <text style="font-size: 10px; font-family: 'DejaVu Sans', 'Bitstream Vera Sans', 'Computer Modern Sans Serif', 'Lucida Grande', 'Verdana', 'Geneva', 'Lucid', 'Arial', 'Helvetica', 'Avant Garde', sans-serif; text-anchor: end; fill: #008000" x="83" y="409.064964" transform="rotate(-0 83 409.304964)">0.5</text>
     </g>
    </g>
    <g id="ytick_16">
     <g id="line2d_36">
      <g>
       <use href="#m5d545ce8f8" x="90" y="369.337856" style="stroke: #000000; stroke-width: 0.8"/>
      </g>
     </g>
     <g id="text_41">
      <text style="font-size: 10px; font-family: 'DejaVu Sans', 'Bitstream Vera Sans', 'Computer Modern Sans Serif', 'Lucida Grande', 'Verdana', 'Geneva', 'Lucid', 'Arial', 'Helvetica', 'Avant Garde', sans-serif; text-anchor: end; fill: #008000" x="83" y="372.897075" transform="rotate(-0 83 373.137075)">1.0</text>
     </g>
    </g>
    <g id="ytick_17">
     <g id="line2d_37">
      <g>
       <use href="#m5d545ce8f8" x="90" y="333.169968" style="stroke: #000000; stroke-width: 0.8"/>
      </g>
     </g>
     <g id="text_42">
      <text style="font-size: 10px; font-family: 'DejaVu Sans', 'Bitstream Vera Sans', 'Computer Modern Sans Serif', 'Lucida Grande', 'Verdana', 'Geneva', 'Lucid', 'Arial', 'Helvetica', 'Avant Garde', sans-serif; text-anchor: end; fill: #008000" x="83" y="336.729186" transform="rotate(-0 83 336.969186)">1.5</text>
     </g>
    </g>
    <g id="ytick_18">
     <g id="line2d_38">
      <g>
       <use href="#m5d545ce8f8" x="90" y="297.002079" style="stroke: #000000; stroke-width: 0.8"/>
      </g>
     </g>
     <g id="text_43">
      <text style="font-size: 10px; font-family: 'DejaVu Sans', 'Bitstream Vera Sans', 'Computer Modern Sans Serif', 'Lucida Grande', 'Verdana', 'Geneva', 'Lucid', 'Arial', 'Helvetica', 'Avant Garde', sans-serif; text-anchor: end; fill: #008000" x="83" y="300.561298" transform="rotate(-0 83 300.801298)">2.0</text>
     </g>
    </g>
    <g id="text_44">
     <!-- Flux (W * m$^2$ * nm$^{-1}$) -->
     <g style="fill: #008000" transform="translate(61.497187 417.094783) rotate(-90)">
      <text>
       <tspan x="-1.300000" y="-0.976562" style="font-size: 10px; font-family: 'DejaVu Sans'; fill: #008000">F</tspan>
       <tspan x="4.451953" y="-0.976562" style="font-size: 10px; font-family: 'DejaVu Sans'; fill: #008000">l</tspan>
       <tspan x="7.230273" y="-0.976562" style="font-size: 10px; font-family: 'DejaVu Sans'; fill: #008000">u</tspan>
       <tspan x="13.568164" y="-0.976562" style="font-size: 10px; font-family: 'DejaVu Sans'; fill: #008000">x</tspan>
       <tspan x="19.486133" y="-0.976562" style="font-size: 10px; font-family: 'DejaVu Sans'; fill: #008000"> </tspan>
       <tspan x="22.664844" y="-0.976562" style="font-size: 10px; font-family: 'DejaVu Sans'; fill: #008000">(</tspan>
       <tspan x="26.566211" y="-0.976562" style="font-size: 10px; font-family: 'DejaVu Sans'; fill: #008000">W</tspan>
       <tspan x="36.453906" y="-0.976562" style="font-size: 10px; font-family: 'DejaVu Sans'; fill: #008000"> </tspan>
       <tspan x="39.632617" y="-0.976562" style="font-size: 10px; font-family: 'DejaVu Sans'; fill: #008000">*</tspan>
       <tspan x="44.632617" y="-0.976562" style="font-size: 10px; font-family: 'DejaVu Sans'; fill: #008000"> </tspan>
       <tspan x="47.811328" y="-0.976562" style="font-size: 10px; font-family: 'DejaVu Sans'; fill: #008000">m</tspan>
       <tspan x="62.375293" y="-0.976562" style="font-size: 10px; font-family: 'DejaVu Sans'; fill: #008000"> </tspan>
       <tspan x="65.554004" y="-0.976562" style="font-size: 10px; font-family: 'DejaVu Sans'; fill: #008000">*</tspan>
       <tspan x="70.554004" y="-0.976562" style="font-size: 10px; font-family: 'DejaVu Sans'; fill: #008000"> </tspan>
       <tspan x="73.732715" y="-0.976562" style="font-size: 10px; font-family: 'DejaVu Sans'; fill: #008000">n</tspan>
       <tspan x="80.070605" y="-0.976562" style="font-size: 10px; font-family: 'DejaVu Sans'; fill: #008000">m</tspan>
       <tspan x="103.459805" y="-0.976562" style="font-size: 10px; font-family: 'DejaVu Sans'; fill: #008000">)</tspan>
       <tspan x="57.648242" y="-4.804688" style="font-size: 7px; font-family: 'DejaVu Sans'; fill: #008000">2</tspan>
       <tspan x="91.207520" y="-4.804688" style="font-size: 7px; font-family: 'DejaVu Sans'; fill: #008000">−</tspan>
       <tspan x="98.942754" y="-4.804688" style="font-size: 7px; font-family: 'DejaVu Sans'; fill: #008000">1</tspan>
      </text>
     </g>
    </g>
    <g id="text_45">
     <text style="font-size: 10px; font-family: 'DejaVu Sans', 'Bitstream Vera Sans', 'Computer Modern Sans Serif', 'Lucida Grande', 'Verdana', 'Geneva', 'Lucid', 'Arial', 'Helvetica', 'Avant Garde', sans-serif; text-anchor: start" x="90" y="277.029565" transform="rotate(-0 90 276.829565)">1e−17</text>
    </g>
   </g>
   <g id="line2d_39">
    <path d="M 115.368 287.52 
L 116.088 343.585168 
L 116.808 381.552091 
L 117.528 404.55812 
L 117.888 410.993458 
L 118.608 417.200001 
L 120.048 426.38134 
L 120.408 428.061879 
L 121.128 429.585569 
L 123.288 432.840538 
L 124.368 433.795155 
L 125.088 433.892093 
L 127.248 433.734747 
L 128.328 433.502752 
L 129.768 432.701534 
L 130.848 432.238837 
L 132.288 431.909531 
L 133.008 432.013926 
L 134.088 432.63139 
L 135.168 433.267914 
L 137.688 434.165264 
L 138.768 434.277934 
L 139.848 434.14851 
L 141.648 433.658198 
L 143.088 433.122004 
L 145.608 431.889323 
L 147.768 431.350869 
L 150.288 431.143875 
L 152.088 431.154088 
L 153.528 431.502922 
L 154.608 431.994202 
L 156.048 432.954555 
L 158.208 434.600063 
L 159.288 435.263617 
L 160.728 435.730156 
L 168.288 437.520242 
L 171.168 437.945688 
L 172.248 437.956203 
L 173.688 437.600616 
L 174.408 437.476413 
L 175.128 437.544705 
L 177.648 438.148418 
L 181.968 438.287842 
L 182.688 438.224573 
L 185.208 437.640266 
L 188.088 437.781558 
L 190.608 438.101785 
L 192.408 438.611155 
L 195.648 438.624 
L 197.808 438.716089 
L 200.688 438.995662 
L 205.368 439.099256 
L 207.168 438.892725 
L 208.608 438.794431 
L 210.408 438.983548 
L 212.928 439.271384 
L 215.088 439.141662 
L 217.248 439.116069 
L 223.728 439.351024 
L 232.368 439.683531 
L 266.568 440.235116 
L 300.048 440.514064 
L 331.368 440.777476 
L 333.528 440.308623 
L 335.328 439.859956 
L 337.488 439.682793 
L 344.328 439.733633 
L 391.128 440.272831 
L 415.608 440.328 
L 460.248 440.438948 
L 493.008 440.4 
L 516.048 440.289827 
L 545.208 439.869432 
L 564.648 439.234513 
L 572.568 438.860988 
L 577.968 438.280196 
L 587.688 437.163063 
L 589.848 436.473869 
L 593.088 435.168101 
L 595.608 433.856584 
L 597.408 433.01801 
L 600.288 431.779975 
L 602.088 430.680546 
L 603.528 429.506616 
L 604.608 428.295084 
L 606.048 426.282044 
L 608.928 421.315564 
L 610.368 419.58041 
L 611.448 418.529142 
L 613.608 416.809117 
L 614.328 415.432226 
L 615.048 413.604695 
L 615.768 411.068574 
L 616.488 407.949653 
L 617.568 402.115158 
L 619.008 392.995077 
L 620.808 381.628828 
L 622.248 374.182034 
L 622.632 372.408 
L 622.632 372.408 
" clip-path="url(#pbcfeac04f6)" style="fill: none; stroke-dasharray: 5.55,2.4; stroke-dashoffset: 0; stroke: #008000; stroke-width: 1.5"/>
   </g>
   <g id="patch_15">
    <path d="M 90 448.56 
L 90 279.829565 
" style="fill: none; stroke: #000000; stroke-width: 0.8; stroke-linejoin: miter; stroke-linecap: square"/>
   </g>
   <g id="patch_16">
    <path d="M 648 448.56 
L 648 279.829565 
" style="fill: none; stroke: #000000; stroke-width: 0.8; stroke-linejoin: miter; stroke-linecap: square"/>
   </g>
   <g id="patch_17">
    <path d="M 90 448.56 
L 648 448.56 
" style="fill: none; stroke: #000000; stroke-width: 0.8; stroke-linejoin: miter; stroke-linecap: square"/>
   </g>
   <g id="patch_18">
    <path d="M 90 279.829565 
L 648 279.829565 
" style="fill: none; stroke: #000000; stroke-width: 0.8; stroke-linejoin: miter; stroke-linecap: square"/>
   </g>
   <g id="text_46">
    <text style="font-size: 12px; font-family: 'DejaVu Sans', 'Bitstream Vera Sans', 'Computer Modern Sans Serif', 'Lucida Grande', 'Verdana', 'Geneva', 'Lucid', 'Arial', 'Helvetica', 'Avant Garde', sans-serif; text-anchor: middle" x="369" y="274.029565" transform="rotate(-0 369 273.829565)">Calibrated Flux</text>
   </g>
   <g id="legend_3">
    <g id="patch_19">
     <path d="M 558.84375 443.56 
L 641 443.56 
Q 643 443.56 643 441.56 
L 643 427.60375 
Q 643 425.60375 641 425.60375 
L 558.84375 425.60375 
Q 556.84375 425.60375 556.84375 427.60375 
L 556.84375 441.56 
Q 556.84375 443.56 558.84375 443.56 
z
" style="fill: #ffffff; opacity: 0.8; stroke: #cccccc; stroke-linejoin: miter"/>
    </g>
    <g id="line2d_40">
     <path d="M 560.84375 433.702188 
L 570.84375 433.702188 
L 580.84375 433.702188 
" style="fill: none; stroke-dasharray: 5.55,2.4; stroke-dashoffset: 0; stroke: #008000; stroke-width: 1.5"/>
    </g>
    <g id="text_47">
     <text style="font-size: 10px; font-family: 'DejaVu Sans', 'Bitstream Vera Sans', 'Computer Modern Sans Serif', 'Lucida Grande', 'Verdana', 'Geneva', 'Lucid', 'Arial', 'Helvetica', 'Avant Garde', sans-serif; text-anchor: start" x="588.84375" y="436.962188" transform="rotate(-0 588.84375 437.202188)">Flux_Error</text>
    </g>
   </g>
  </g>
  <g id="axes_4">
   <g id="matplotlib.axis_7">
    <g id="ytick_19">
     <g id="line2d_41">
      <defs>
       <path id="m33c4ce201d" d="M 0 0 
L 3.5 0 
" style="stroke: #000000; stroke-width: 0.8"/>
      </defs>
      <g>
       <use href="#m33c4ce201d" x="317.755102" y="220.973073" style="stroke: #000000; stroke-width: 0.8"/>
      </g>
     </g>
     <g id="text_48">
      <text style="font-size: 10px; font-family: 'DejaVu Sans', 'Bitstream Vera Sans', 'Computer Modern Sans Serif', 'Lucida Grande', 'Verdana', 'Geneva', 'Lucid', 'Arial', 'Helvetica', 'Avant Garde', sans-serif; text-anchor: start; fill: #0000ff" x="324.755102" y="224.532292" transform="rotate(-0 324.755102 224.772292)">0</text>
     </g>
    </g>
    <g id="ytick_20">
     <g id="line2d_42">
      <g>
       <use href="#m33c4ce201d" x="317.755102" y="193.876488" style="stroke: #000000; stroke-width: 0.8"/>
      </g>
     </g>
     <g id="text_49">
      <text style="font-size: 10px; font-family: 'DejaVu Sans', 'Bitstream Vera Sans', 'Computer Modern Sans Serif', 'Lucida Grande', 'Verdana', 'Geneva', 'Lucid', 'Arial', 'Helvetica', 'Avant Garde', sans-serif; text-anchor: start; fill: #0000ff" x="324.755102" y="197.435707" transform="rotate(-0 324.755102 197.675707)">20</text>
     </g>
    </g>
    <g id="ytick_21">
     <g id="line2d_43">
      <g>
       <use href="#m33c4ce201d" x="317.755102" y="166.779903" style="stroke: #000000; stroke-width: 0.8"/>
      </g>
     </g>
     <g id="text_50">
      <text style="font-size: 10px; font-family: 'DejaVu Sans', 'Bitstream Vera Sans', 'Computer Modern Sans Serif', 'Lucida Grande', 'Verdana', 'Geneva', 'Lucid', 'Arial', 'Helvetica', 'Avant Garde', sans-serif; text-anchor: start; fill: #0000ff" x="324.755102" y="170.339122" transform="rotate(-0 324.755102 170.579122)">40</text>
     </g>
    </g>
    <g id="ytick_22">
     <g id="line2d_44">
      <g>
       <use href="#m33c4ce201d" x="317.755102" y="139.683318" style="stroke: #000000; stroke-width: 0.8"/>
      </g>
     </g>
     <g id="text_51">
      <text style="font-size: 10px; font-family: 'DejaVu Sans', 'Bitstream Vera Sans', 'Computer Modern Sans Serif', 'Lucida Grande', 'Verdana', 'Geneva', 'Lucid', 'Arial', 'Helvetica', 'Avant Garde', sans-serif; text-anchor: start; fill: #0000ff" x="324.755102" y="143.242537" transform="rotate(-0 324.755102 143.482537)">60</text>
     </g>
    </g>
    <g id="ytick_23">
     <g id="line2d_45">
      <g>
       <use href="#m33c4ce201d" x="317.755102" y="112.586733" style="stroke: #000000; stroke-width: 0.8"/>
      </g>
     </g>
     <g id="text_52">
      <text style="font-size: 10px; font-family: 'DejaVu Sans', 'Bitstream Vera Sans', 'Computer Modern Sans Serif', 'Lucida Grande', 'Verdana', 'Geneva', 'Lucid', 'Arial', 'Helvetica', 'Avant Garde', sans-serif; text-anchor: start; fill: #0000ff" x="324.755102" y="116.145952" transform="rotate(-0 324.755102 116.385952)">80</text>
     </g>
    </g>
    <g id="ytick_24">
     <g id="line2d_46">
      <g>
       <use href="#m33c4ce201d" x="317.755102" y="85.490148" style="stroke: #000000; stroke-width: 0.8"/>
      </g>
     </g>
     <g id="text_53">
      <text style="font-size: 10px; font-family: 'DejaVu Sans', 'Bitstream Vera Sans', 'Computer Modern Sans Serif', 'Lucida Grande', 'Verdana', 'Geneva', 'Lucid', 'Arial', 'Helvetica', 'Avant Garde', sans-serif; text-anchor: start; fill: #0000ff" x="324.755102" y="89.049367" transform="rotate(-0 324.755102 89.289367)">100</text>
     </g>
    </g>
    <g id="text_54">
     <text style="font-size: 10px; font-family: 'DejaVu Sans', 'Bitstream Vera Sans', 'Computer Modern Sans Serif', 'Lucida Grande', 'Verdana', 'Geneva', 'Lucid', 'Arial', 'Helvetica', 'Avant Garde', sans-serif; text-anchor: middle; fill: #0000ff" x="355.131040" y="144.585217" transform="rotate(-90 355.44104 144.845217)">Flux (e-/s)</text>
    </g>
   </g>
   <g id="line2d_47">
    <path d="M 100.368 220.944 
L 115.848 221.049295 
L 122.328 221.36011 
L 124.488 221.367476 
L 125.928 221.080523 
L 127.368 220.620127 
L 130.608 219.110306 
L 131.328 219.084405 
L 132.408 219.300959 
L 134.208 219.949016 
L 136.008 220.893132 
L 136.728 220.911437 
L 137.448 220.660274 
L 138.888 219.782526 
L 139.968 219.212122 
L 140.688 219.072 
L 142.128 219.200113 
L 144.288 219.431847 
L 145.008 219.299803 
L 146.088 218.769941 
L 148.248 217.537691 
L 148.968 217.374647 
L 152.568 216.944388 
L 153.648 216.298049 
L 154.368 215.635916 
L 155.448 214.000236 
L 156.528 211.922351 
L 157.608 209.221155 
L 158.328 206.901621 
L 159.048 203.669799 
L 160.128 196.004222 
L 160.488 192.780271 
L 160.848 187.948598 
L 161.568 172.539361 
L 162.648 143.431875 
L 163.368 125.720098 
L 164.448 94.677303 
L 165.168 82.246616 
L 166.248 69.832253 
L 166.608 68.492397 
L 166.968 68.22959 
L 167.328 68.16178 
L 168.048 68.487443 
L 168.408 68.8921 
L 169.128 70.633111 
L 170.208 73.760254 
L 172.368 79.014938 
L 173.448 82.492483 
L 174.888 88.110698 
L 176.688 96.419228 
L 180.648 115.337702 
L 181.728 120.426153 
L 182.808 125.801874 
L 183.888 129.926638 
L 184.968 133.365484 
L 186.408 137.652753 
L 187.488 142.063508 
L 188.928 148.461435 
L 189.648 150.48891 
L 190.368 151.837691 
L 191.448 153.172919 
L 192.168 154.122593 
L 192.888 155.546322 
L 193.968 158.594758 
L 195.048 162.338721 
L 196.128 165.938354 
L 196.848 167.432871 
L 198.288 169.592868 
L 199.008 170.78942 
L 200.088 173.24061 
L 201.168 175.601072 
L 201.888 177.395395 
L 204.048 184.50212 
L 204.768 186.404867 
L 205.848 188.66564 
L 206.208 189.137837 
L 206.928 189.35193 
L 208.368 189.567733 
L 208.728 189.839911 
L 209.448 190.798925 
L 209.808 191.416692 
L 210.528 193.688935 
L 211.608 197.286881 
L 212.328 199.022042 
L 213.048 199.881332 
L 214.848 201.514445 
L 215.928 203.044793 
L 217.728 206.033258 
L 220.248 210.383309 
L 220.968 211.3969 
L 221.688 212.086647 
L 225.648 215.248007 
L 226.368 215.877158 
L 226.728 215.99813 
L 228.168 215.884359 
L 229.248 215.808206 
L 229.968 215.977925 
L 231.408 216.784163 
L 232.128 217.102402 
L 233.928 217.426937 
L 237.168 217.832495 
L 239.688 217.350662 
L 240.408 217.601281 
L 242.208 218.418118 
L 244.368 218.601694 
L 246.888 218.615132 
L 249.768 218.536947 
L 250.488 218.790074 
L 252.288 219.912306 
L 253.368 220.807811 
L 254.088 221.063813 
L 254.808 220.91611 
L 256.968 220.149458 
L 259.128 219.650285 
L 260.208 219.577281 
L 261.648 219.741451 
L 263.808 220.218946 
L 265.968 220.838031 
L 267.408 220.944996 
L 272.088 221.063997 
L 273.528 220.95219 
L 277.128 220.513557 
L 278.568 220.710835 
L 281.088 221.147783 
L 283.968 221.398548 
L 286.128 221.301774 
L 291.528 220.88908 
L 305.208 220.848 
L 307.416 220.848 
L 307.416 220.848 
" clip-path="url(#ped18cb847b)" style="fill: none; stroke: #0000ff; stroke-width: 1.5; stroke-linecap: square"/>
   </g>
   <g id="patch_20">
    <path d="M 90 229.210435 
L 90 60.48 
" style="fill: none; stroke: #000000; stroke-width: 0.8; stroke-linejoin: miter; stroke-linecap: square"/>
   </g>
   <g id="patch_21">
    <path d="M 317.755102 229.210435 
L 317.755102 60.48 
" style="fill: none; stroke: #000000; stroke-width: 0.8; stroke-linejoin: miter; stroke-linecap: square"/>
   </g>
   <g id="patch_22">
    <path d="M 90 229.210435 
L 317.755102 229.210435 
" style="fill: none; stroke: #000000; stroke-width: 0.8; stroke-linejoin: miter; stroke-linecap: square"/>
   </g>
   <g id="patch_23">
    <path d="M 90 60.48 
L 317.755102 60.48 
" style="fill: none; stroke: #000000; stroke-width: 0.8; stroke-linejoin: miter; stroke-linecap: square"/>
   </g>
   <g id="legend_4">
    <g id="patch_24">
     <path d="M 265.864477 83.158125 
L 310.755102 83.158125 
Q 312.755102 83.158125 312.755102 81.158125 
L 312.755102 67.48 
Q 312.755102 65.48 310.755102 65.48 
L 265.864477 65.48 
Q 263.864477 65.48 263.864477 67.48 
L 263.864477 81.158125 
Q 263.864477 83.158125 265.864477 83.158125 
z
" style="fill: #ffffff; opacity: 0.8; stroke: #cccccc; stroke-linejoin: miter"/>
    </g>
    <g id="line2d_48">
     <path d="M 267.864477 73.578438 
L 277.864477 73.578438 
L 287.864477 73.578438 
" style="fill: none; stroke: #0000ff; stroke-width: 1.5; stroke-linecap: square"/>
    </g>
    <g id="text_55">
     <text style="font-size: 10px; font-family: 'DejaVu Sans', 'Bitstream Vera Sans', 'Computer Modern Sans Serif', 'Lucida Grande', 'Verdana', 'Geneva', 'Lucid', 'Arial', 'Helvetica', 'Avant Garde', sans-serif; text-anchor: start" x="295.864477" y="76.838438" transform="rotate(-0 295.864477 77.078438)">BP</text>
    </g>
   </g>
  </g>
  <g id="axes_5">
   <g id="matplotlib.axis_8">
    <g id="ytick_25">
     <g id="line2d_49">
      <g>
       <use href="#m33c4ce201d" x="648" y="221.705816" style="stroke: #000000; stroke-width: 0.8"/>
      </g>
     </g>
     <g id="text_56">
      <text style="font-size: 10px; font-family: 'DejaVu Sans', 'Bitstream Vera Sans', 'Computer Modern Sans Serif', 'Lucida Grande', 'Verdana', 'Geneva', 'Lucid', 'Arial', 'Helvetica', 'Avant Garde', sans-serif; text-anchor: start; fill: #ff0000" x="655" y="225.265034" transform="rotate(-0 655 225.505034)">0</text>
     </g>
    </g>
    <g id="ytick_26">
     <g id="line2d_50">
      <g>
       <use href="#m33c4ce201d" x="648" y="183.707745" style="stroke: #000000; stroke-width: 0.8"/>
      </g>
     </g>
     <g id="text_57">
      <text style="font-size: 10px; font-family: 'DejaVu Sans', 'Bitstream Vera Sans', 'Computer Modern Sans Serif', 'Lucida Grande', 'Verdana', 'Geneva', 'Lucid', 'Arial', 'Helvetica', 'Avant Garde', sans-serif; text-anchor: start; fill: #ff0000" x="655" y="187.266963" transform="rotate(-0 655 187.506963)">20</text>
     </g>
    </g>
    <g id="ytick_27">
     <g id="line2d_51">
      <g>
       <use href="#m33c4ce201d" x="648" y="145.709674" style="stroke: #000000; stroke-width: 0.8"/>
      </g>
     </g>
     <g id="text_58">
      <text style="font-size: 10px; font-family: 'DejaVu Sans', 'Bitstream Vera Sans', 'Computer Modern Sans Serif', 'Lucida Grande', 'Verdana', 'Geneva', 'Lucid', 'Arial', 'Helvetica', 'Avant Garde', sans-serif; text-anchor: start; fill: #ff0000" x="655" y="149.268892" transform="rotate(-0 655 149.508892)">40</text>
     </g>
    </g>
    <g id="ytick_28">
     <g id="line2d_52">
      <g>
       <use href="#m33c4ce201d" x="648" y="107.711602" style="stroke: #000000; stroke-width: 0.8"/>
      </g>
     </g>
     <g id="text_59">
      <text style="font-size: 10px; font-family: 'DejaVu Sans', 'Bitstream Vera Sans', 'Computer Modern Sans Serif', 'Lucida Grande', 'Verdana', 'Geneva', 'Lucid', 'Arial', 'Helvetica', 'Avant Garde', sans-serif; text-anchor: start; fill: #ff0000" x="655" y="111.270821" transform="rotate(-0 655 111.510821)">60</text>
     </g>
    </g>
    <g id="ytick_29">
     <g id="line2d_53">
      <g>
       <use href="#m33c4ce201d" x="648" y="69.713531" style="stroke: #000000; stroke-width: 0.8"/>
      </g>
     </g>
     <g id="text_60">
      <text style="font-size: 10px; font-family: 'DejaVu Sans', 'Bitstream Vera Sans', 'Computer Modern Sans Serif', 'Lucida Grande', 'Verdana', 'Geneva', 'Lucid', 'Arial', 'Helvetica', 'Avant Garde', sans-serif; text-anchor: start; fill: #ff0000" x="655" y="73.272750" transform="rotate(-0 655 73.51275)">80</text>
     </g>
    </g>
    <g id="text_61">
     <text style="font-size: 10px; font-family: 'DejaVu Sans', 'Bitstream Vera Sans', 'Computer Modern Sans Serif', 'Lucida Grande', 'Verdana', 'Geneva', 'Lucid', 'Arial', 'Helvetica', 'Avant Garde', sans-serif; text-anchor: middle; fill: #ff0000" x="679.013437" y="144.585217" transform="rotate(-90 679.323437 144.845217)">Flux (e-/s)</text>
    </g>
   </g>
   <g id="line2d_54">
    <path d="M 430.728 221.448 
L 448.728 221.342022 
L 453.768 221.096555 
L 463.848 220.234371 
L 466.368 219.473456 
L 468.528 218.718425 
L 472.488 217.889078 
L 473.928 217.152 
L 475.008 216.296055 
L 476.448 214.725394 
L 478.248 212.513989 
L 479.328 210.865237 
L 480.048 209.487115 
L 480.768 207.731184 
L 481.488 205.35731 
L 482.928 198.973818 
L 483.648 195.476264 
L 484.368 190.726651 
L 485.448 182.17263 
L 487.248 165.794563 
L 488.328 155.336512 
L 489.768 143.649375 
L 491.568 135.892793 
L 492.288 134.374109 
L 493.368 132.945017 
L 495.168 130.708742 
L 496.608 128.945746 
L 497.328 127.838323 
L 498.048 126.396072 
L 499.488 122.860187 
L 502.008 115.928925 
L 503.088 114.338093 
L 505.608 111.01223 
L 507.048 108.940704 
L 508.488 106.336671 
L 509.928 103.782823 
L 510.648 102.839903 
L 511.728 101.836797 
L 513.168 100.624299 
L 514.248 99.341496 
L 516.048 96.666083 
L 519.288 91.651657 
L 521.808 88.032339 
L 525.408 82.301756 
L 530.088 76.810847 
L 530.808 76.359899 
L 531.888 76.134835 
L 533.328 75.84 
L 533.688 75.601478 
L 534.408 74.669723 
L 536.568 71.360256 
L 537.288 70.576705 
L 538.368 70.175254 
L 540.168 69.657947 
L 543.408 68.190992 
L 544.128 68.210175 
L 544.848 68.499939 
L 545.928 69.212071 
L 546.648 69.918519 
L 547.728 71.539386 
L 548.808 73.407126 
L 549.888 75.666007 
L 550.608 77.48651 
L 551.688 80.403805 
L 553.128 83.253498 
L 554.208 85.405892 
L 556.008 89.783377 
L 557.088 92.187283 
L 559.248 96.490942 
L 560.328 99.589447 
L 561.048 102.200554 
L 562.488 108.92295 
L 563.568 114.997151 
L 564.648 121.957676 
L 565.728 127.719736 
L 566.808 132.399527 
L 567.888 136.292049 
L 569.328 140.589448 
L 569.688 141.707206 
L 570.048 143.265001 
L 574.728 171.051425 
L 576.168 177.633506 
L 577.608 183.21706 
L 579.408 189.288429 
L 581.568 196.568081 
L 583.008 202.019393 
L 583.728 204.786058 
L 584.448 206.4967 
L 585.888 208.898061 
L 587.328 211.886928 
L 588.048 212.722293 
L 592.368 216.92869 
L 593.448 217.931594 
L 594.168 218.298494 
L 595.608 218.700865 
L 598.488 219.18555 
L 603.888 219.793832 
L 607.488 220.245819 
L 613.968 221.296333 
L 617.568 221.448689 
L 623.328 221.496 
L 637.536 221.496 
L 637.536 221.496 
" clip-path="url(#p2e5e7b1a41)" style="fill: none; stroke: #ff0000; stroke-width: 1.5; stroke-linecap: square"/>
   </g>
   <g id="patch_25">
    <path d="M 420.244898 229.210435 
L 420.244898 60.48 
" style="fill: none; stroke: #000000; stroke-width: 0.8; stroke-linejoin: miter; stroke-linecap: square"/>
   </g>
   <g id="patch_26">
    <path d="M 648 229.210435 
L 648 60.48 
" style="fill: none; stroke: #000000; stroke-width: 0.8; stroke-linejoin: miter; stroke-linecap: square"/>
   </g>
   <g id="patch_27">
    <path d="M 420.244898 229.210435 
L 648 229.210435 
" style="fill: none; stroke: #000000; stroke-width: 0.8; stroke-linejoin: miter; stroke-linecap: square"/>
   </g>
   <g id="patch_28">
    <path d="M 420.244898 60.48 
L 648 60.48 
" style="fill: none; stroke: #000000; stroke-width: 0.8; stroke-linejoin: miter; stroke-linecap: square"/>
   </g>
   <g id="legend_5">
    <g id="patch_29">
     <path d="M 596.021875 83.158125 
L 641 83.158125 
Q 643 83.158125 643 81.158125 
L 643 67.48 
Q 643 65.48 641 65.48 
L 596.021875 65.48 
Q 594.021875 65.48 594.021875 67.48 
L 594.021875 81.158125 
Q 594.021875 83.158125 596.021875 83.158125 
z
" style="fill: #ffffff; opacity: 0.8; stroke: #cccccc; stroke-linejoin: miter"/>
    </g>
    <g id="line2d_55">
     <path d="M 598.021875 73.578438 
L 608.021875 73.578438 
L 618.021875 73.578438 
" style="fill: none; stroke: #ff0000; stroke-width: 1.5; stroke-linecap: square"/>
    </g>
    <g id="text_62">
     <text style="font-size: 10px; font-family: 'DejaVu Sans', 'Bitstream Vera Sans', 'Computer Modern Sans Serif', 'Lucida Grande', 'Verdana', 'Geneva', 'Lucid', 'Arial', 'Helvetica', 'Avant Garde', sans-serif; text-anchor: start" x="626.021875" y="76.838438" transform="rotate(-0 626.021875 77.078438)">RP</text>
    </g>
   </g>
  </g>
  <g id="axes_6">
   <g id="matplotlib.axis_9">
    <g id="ytick_30">
     <g id="line2d_56">
      <g>
       <use href="#m33c4ce201d" x="648" y="421.994238" style="stroke: #000000; stroke-width: 0.8"/>
      </g>
     </g>
     <g id="text_63">
      <text style="font-size: 10px; font-family: 'DejaVu Sans', 'Bitstream Vera Sans', 'Computer Modern Sans Serif', 'Lucida Grande', 'Verdana', 'Geneva', 'Lucid', 'Arial', 'Helvetica', 'Avant Garde', sans-serif; text-anchor: start" x="655" y="425.553457" transform="rotate(-0 655 425.793457)">0</text>
     </g>
    </g>
    <g id="ytick_31">
     <g id="line2d_57">
      <g>
       <use href="#m33c4ce201d" x="648" y="385.948429" style="stroke: #000000; stroke-width: 0.8"/>
      </g>
     </g>
     <g id="text_64">
      <text style="font-size: 10px; font-family: 'DejaVu Sans', 'Bitstream Vera Sans', 'Computer Modern Sans Serif', 'Lucida Grande', 'Verdana', 'Geneva', 'Lucid', 'Arial', 'Helvetica', 'Avant Garde', sans-serif; text-anchor: start" x="655" y="389.507647" transform="rotate(-0 655 389.747647)">1</text>
     </g>
    </g>
    <g id="ytick_32">
     <g id="line2d_58">
      <g>
       <use href="#m33c4ce201d" x="648" y="349.902619" style="stroke: #000000; stroke-width: 0.8"/>
      </g>
     </g>
     <g id="text_65">
      <text style="font-size: 10px; font-family: 'DejaVu Sans', 'Bitstream Vera Sans', 'Computer Modern Sans Serif', 'Lucida Grande', 'Verdana', 'Geneva', 'Lucid', 'Arial', 'Helvetica', 'Avant Garde', sans-serif; text-anchor: start" x="655" y="353.461838" transform="rotate(-0 655 353.701838)">2</text>
     </g>
    </g>
    <g id="ytick_33">
     <g id="line2d_59">
      <g>
       <use href="#m33c4ce201d" x="648" y="313.856809" style="stroke: #000000; stroke-width: 0.8"/>
      </g>
     </g>
     <g id="text_66">
      <text style="font-size: 10px; font-family: 'DejaVu Sans', 'Bitstream Vera Sans', 'Computer Modern Sans Serif', 'Lucida Grande', 'Verdana', 'Geneva', 'Lucid', 'Arial', 'Helvetica', 'Avant Garde', sans-serif; text-anchor: start" x="655" y="317.416028" transform="rotate(-0 655 317.656028)">3</text>
     </g>
    </g>
    <g id="text_67">
     <!-- Flux (W * m$^2$ * nm$^{-1}$) -->
     <g transform="translate(674.958812 417.094783) rotate(-90)">
      <text>
       <tspan x="-1.300000" y="-0.976562" style="font-size: 10px; font-family: 'DejaVu Sans'">F</tspan>
       <tspan x="4.451953" y="-0.976562" style="font-size: 10px; font-family: 'DejaVu Sans'">l</tspan>
       <tspan x="7.230273" y="-0.976562" style="font-size: 10px; font-family: 'DejaVu Sans'">u</tspan>
       <tspan x="13.568164" y="-0.976562" style="font-size: 10px; font-family: 'DejaVu Sans'">x</tspan>
       <tspan x="19.486133" y="-0.976562" style="font-size: 10px; font-family: 'DejaVu Sans'"> </tspan>
       <tspan x="22.664844" y="-0.976562" style="font-size: 10px; font-family: 'DejaVu Sans'">(</tspan>
       <tspan x="26.566211" y="-0.976562" style="font-size: 10px; font-family: 'DejaVu Sans'">W</tspan>
       <tspan x="36.453906" y="-0.976562" style="font-size: 10px; font-family: 'DejaVu Sans'"> </tspan>
       <tspan x="39.632617" y="-0.976562" style="font-size: 10px; font-family: 'DejaVu Sans'">*</tspan>
       <tspan x="44.632617" y="-0.976562" style="font-size: 10px; font-family: 'DejaVu Sans'"> </tspan>
       <tspan x="47.811328" y="-0.976562" style="font-size: 10px; font-family: 'DejaVu Sans'">m</tspan>
       <tspan x="62.375293" y="-0.976562" style="font-size: 10px; font-family: 'DejaVu Sans'"> </tspan>
       <tspan x="65.554004" y="-0.976562" style="font-size: 10px; font-family: 'DejaVu Sans'">*</tspan>
       <tspan x="70.554004" y="-0.976562" style="font-size: 10px; font-family: 'DejaVu Sans'"> </tspan>
       <tspan x="73.732715" y="-0.976562" style="font-size: 10px; font-family: 'DejaVu Sans'">n</tspan>
       <tspan x="80.070605" y="-0.976562" style="font-size: 10px; font-family: 'DejaVu Sans'">m</tspan>
       <tspan x="103.459805" y="-0.976562" style="font-size: 10px; font-family: 'DejaVu Sans'">)</tspan>
       <tspan x="57.648242" y="-4.804688" style="font-size: 7px; font-family: 'DejaVu Sans'">2</tspan>
       <tspan x="91.207520" y="-4.804688" style="font-size: 7px; font-family: 'DejaVu Sans'">−</tspan>
       <tspan x="98.942754" y="-4.804688" style="font-size: 7px; font-family: 'DejaVu Sans'">1</tspan>
      </text>
     </g>
    </g>
    <g id="text_68">
     <text style="font-size: 10px; font-family: 'DejaVu Sans', 'Bitstream Vera Sans', 'Computer Modern Sans Serif', 'Lucida Grande', 'Verdana', 'Geneva', 'Lucid', 'Arial', 'Helvetica', 'Avant Garde', sans-serif; text-anchor: end" x="648" y="277.029565" transform="rotate(-0 648 276.829565)">1e−17</text>
    </g>
   </g>
   <g id="line2d_60">
    <path d="M 115.368 287.52 
L 115.728 332.104047 
L 116.088 357.284889 
L 116.808 384.073315 
L 118.248 429.839968 
L 118.608 435.508281 
L 118.968 438.7826 
L 119.328 440.239088 
L 119.688 440.538262 
L 120.048 439.620978 
L 120.408 436.673506 
L 121.128 428.994218 
L 122.928 413.927722 
L 123.288 412.32 
L 123.648 411.747163 
L 124.008 411.834714 
L 124.728 412.831704 
L 126.168 415.197269 
L 126.528 415.544995 
L 126.888 415.68 
L 127.248 415.575923 
L 128.328 414.98354 
L 128.688 415.1078 
L 129.048 415.454556 
L 129.768 416.672017 
L 130.488 418.000705 
L 130.848 418.353024 
L 131.208 418.301014 
L 131.568 417.755578 
L 132.288 415.629273 
L 133.368 411.893835 
L 133.728 410.96429 
L 134.088 410.36128 
L 134.448 410.182611 
L 134.808 410.444809 
L 135.168 411.07573 
L 135.888 413.13663 
L 137.328 417.784946 
L 137.688 418.411116 
L 138.048 418.604772 
L 138.408 418.383498 
L 139.128 417.223596 
L 139.848 415.920227 
L 140.208 415.447205 
L 140.568 415.207705 
L 140.928 415.283192 
L 141.288 415.66926 
L 142.008 417.037706 
L 142.728 418.586419 
L 143.088 419.113692 
L 143.448 419.28149 
L 143.808 418.97032 
L 144.168 418.115137 
L 144.888 415.218803 
L 145.608 412.231403 
L 146.328 410.324354 
L 146.688 409.884122 
L 147.048 409.832592 
L 147.408 410.197568 
L 147.768 410.954561 
L 148.488 413.452796 
L 149.928 419.915244 
L 150.288 420.876755 
L 150.648 421.206998 
L 151.008 420.820017 
L 151.368 419.849988 
L 152.088 416.816639 
L 153.168 411.908603 
L 153.888 409.665724 
L 154.248 409.060353 
L 154.608 408.88771 
L 154.968 409.158422 
L 155.328 409.779677 
L 156.048 411.657604 
L 157.128 414.596443 
L 157.488 415.286508 
L 157.848 415.708013 
L 158.208 415.794386 
L 158.568 415.568369 
L 159.288 414.501576 
L 160.368 412.579308 
L 161.088 411.783425 
L 161.448 411.575511 
L 161.808 411.500802 
L 162.528 411.728609 
L 163.968 412.605695 
L 164.328 412.659451 
L 164.688 412.567247 
L 165.408 411.98621 
L 166.128 411.024291 
L 167.928 408.291462 
L 168.648 407.753879 
L 169.008 407.741539 
L 169.368 407.933117 
L 170.088 408.836812 
L 170.808 410.239409 
L 172.608 414.223061 
L 172.968 414.750937 
L 173.328 415.073507 
L 173.688 415.140958 
L 174.048 414.914316 
L 174.408 414.419541 
L 175.128 412.825792 
L 178.008 405.138953 
L 178.728 404.266202 
L 179.088 404.10598 
L 179.448 404.150359 
L 179.808 404.400936 
L 180.528 405.440158 
L 181.248 407.053307 
L 183.408 412.664218 
L 184.128 413.753238 
L 184.488 414.051933 
L 184.848 414.17071 
L 185.208 414.097841 
L 185.568 413.839706 
L 186.288 412.907842 
L 188.808 408.869651 
L 189.528 408.199136 
L 190.248 407.909434 
L 190.968 408.055358 
L 191.688 408.527164 
L 193.848 410.253441 
L 194.568 410.517464 
L 195.288 410.473549 
L 196.008 410.093099 
L 196.728 409.457471 
L 198.168 407.793891 
L 199.608 406.205326 
L 200.328 405.633759 
L 201.048 405.308609 
L 201.768 405.298066 
L 202.488 405.591533 
L 203.208 406.117763 
L 204.648 407.577282 
L 206.088 409.0836 
L 206.808 409.65233 
L 207.528 409.98654 
L 208.248 410.005352 
L 208.968 409.703595 
L 209.688 409.158688 
L 211.128 407.665805 
L 212.928 405.822899 
L 214.008 405.049481 
L 214.728 404.765545 
L 215.448 404.701076 
L 216.168 404.829187 
L 217.248 405.306377 
L 218.688 406.306277 
L 221.568 408.461136 
L 222.648 408.988673 
L 223.728 409.295726 
L 224.808 409.360381 
L 225.888 409.191212 
L 227.328 408.721909 
L 231.648 407.096939 
L 233.448 406.723573 
L 235.248 406.585911 
L 237.408 406.674976 
L 240.288 407.060137 
L 243.888 407.540566 
L 245.688 407.534584 
L 247.848 407.2511 
L 256.128 405.84128 
L 258.288 405.763703 
L 260.808 405.930969 
L 265.128 406.533799 
L 267.648 406.747529 
L 269.448 406.693751 
L 271.608 406.415811 
L 275.208 405.677292 
L 278.088 405.183121 
L 280.968 404.965223 
L 286.728 404.788839 
L 289.608 404.956414 
L 293.208 405.438185 
L 298.608 406.197735 
L 301.128 406.301202 
L 304.008 406.17712 
L 307.968 405.753446 
L 311.568 405.429173 
L 314.088 405.435269 
L 323.088 405.756869 
L 328.848 405.571084 
L 331.008 405.756375 
L 332.808 406.139095 
L 336.768 407.275701 
L 337.848 407.195347 
L 341.088 406.662367 
L 342.168 406.863735 
L 343.248 407.319348 
L 345.048 408.192701 
L 345.768 408.334624 
L 346.488 408.242576 
L 347.568 407.751004 
L 350.448 406.118259 
L 351.528 405.836299 
L 352.608 405.873414 
L 353.688 406.165178 
L 356.928 407.249863 
L 358.008 407.272215 
L 359.448 407.019356 
L 361.248 406.678704 
L 362.328 406.678198 
L 364.128 406.972682 
L 365.928 407.208285 
L 367.008 407.129391 
L 368.808 406.705716 
L 370.608 406.303141 
L 371.688 406.257278 
L 372.768 406.426747 
L 374.208 406.900476 
L 377.088 407.992163 
L 378.168 408.128385 
L 379.248 408.015665 
L 381.408 407.45139 
L 383.208 407.115191 
L 384.288 407.102087 
L 385.728 407.322502 
L 388.968 407.92593 
L 390.408 407.855832 
L 394.368 407.379684 
L 395.808 407.530302 
L 399.768 408.119149 
L 401.208 408.021144 
L 405.528 407.503393 
L 406.968 407.694584 
L 411.288 408.543537 
L 412.728 408.47202 
L 414.528 408.110529 
L 417.048 407.574439 
L 418.488 407.503195 
L 419.928 407.713835 
L 421.728 408.240543 
L 424.968 409.263232 
L 426.408 409.475015 
L 427.848 409.424745 
L 429.648 409.095146 
L 434.328 408.031114 
L 436.128 407.962145 
L 438.288 408.138169 
L 445.128 408.929991 
L 448.008 408.906839 
L 455.928 408.594762 
L 459.168 408.943685 
L 462.768 409.282929 
L 464.928 409.246637 
L 470.688 408.942344 
L 472.488 409.142744 
L 475.368 409.735716 
L 478.248 410.289074 
L 480.048 410.424341 
L 481.848 410.312889 
L 484.728 409.853128 
L 487.248 409.507872 
L 489.048 409.486577 
L 490.848 409.694354 
L 497.328 410.709639 
L 499.128 410.615076 
L 501.288 410.244891 
L 507.048 409.09765 
L 508.848 409.042095 
L 511.008 409.215602 
L 517.488 409.91131 
L 521.448 410.157826 
L 523.608 410.560706 
L 529.728 411.9207 
L 531.528 411.979648 
L 532.968 411.813052 
L 534.768 411.391916 
L 537.648 410.456101 
L 540.888 409.455798 
L 542.688 409.124445 
L 544.128 409.059044 
L 545.568 409.203016 
L 547.368 409.617608 
L 549.888 410.459163 
L 553.848 411.797909 
L 555.648 412.170909 
L 557.088 412.274012 
L 558.888 412.179702 
L 561.768 411.748281 
L 565.008 411.301156 
L 566.808 411.271745 
L 568.608 411.451734 
L 570.768 411.911534 
L 575.088 413.043405 
L 576.168 413.07323 
L 577.248 412.894782 
L 578.688 412.378262 
L 580.488 411.446485 
L 587.688 407.369457 
L 588.768 407.055547 
L 589.848 406.960954 
L 590.928 407.133734 
L 592.008 407.565505 
L 593.088 408.226954 
L 594.528 409.41557 
L 595.968 410.898816 
L 597.768 413.091798 
L 601.728 418.177029 
L 602.808 419.114691 
L 603.888 419.705161 
L 604.608 419.883978 
L 605.328 419.875596 
L 606.048 419.667471 
L 606.768 419.24766 
L 607.488 418.604244 
L 608.208 417.725306 
L 609.288 415.961784 
L 610.368 413.756699 
L 612.168 409.437703 
L 616.128 399.363576 
L 617.208 397.645319 
L 618.288 396.426472 
L 619.008 395.846259 
L 619.728 395.543461 
L 620.448 395.601866 
L 621.168 396.015025 
L 621.888 396.718274 
L 622.632 397.68 
L 622.632 397.68 
" clip-path="url(#pbcfeac04f6)" style="fill: none; stroke: #000000; stroke-width: 1.5; stroke-linecap: square"/>
   </g>
   <g id="patch_30">
    <path d="M 90 448.56 
L 90 279.829565 
" style="fill: none; stroke: #000000; stroke-width: 0.8; stroke-linejoin: miter; stroke-linecap: square"/>
   </g>
   <g id="patch_31">
    <path d="M 648 448.56 
L 648 279.829565 
" style="fill: none; stroke: #000000; stroke-width: 0.8; stroke-linejoin: miter; stroke-linecap: square"/>
   </g>
   <g id="patch_32">
    <path d="M 90 448.56 
L 648 448.56 
" style="fill: none; stroke: #000000; stroke-width: 0.8; stroke-linejoin: miter; stroke-linecap: square"/>
   </g>
   <g id="patch_33">
    <path d="M 90 279.829565 
L 648 279.829565 
" style="fill: none; stroke: #000000; stroke-width: 0.8; stroke-linejoin: miter; stroke-linecap: square"/>
   </g>
   <g id="legend_6">
    <g id="patch_34">
     <path d="M 97 443.56 
L 149.785937 443.56 
Q 151.785937 443.56 151.785937 441.56 
L 151.785937 427.881875 
Q 151.785937 425.881875 149.785937 425.881875 
L 97 425.881875 
Q 95 425.881875 95 427.881875 
L 95 441.56 
Q 95 443.56 97 443.56 
z
" style="fill: #ffffff; opacity: 0.8; stroke: #cccccc; stroke-linejoin: miter"/>
    </g>
    <g id="line2d_61">
     <path d="M 99 433.980313 
L 109 433.980313 
L 119 433.980313 
" style="fill: none; stroke: #000000; stroke-width: 1.5; stroke-linecap: square"/>
    </g>
    <g id="text_69">
     <text style="font-size: 10px; font-family: 'DejaVu Sans', 'Bitstream Vera Sans', 'Computer Modern Sans Serif', 'Lucida Grande', 'Verdana', 'Geneva', 'Lucid', 'Arial', 'Helvetica', 'Avant Garde', sans-serif; text-anchor: start" x="127" y="437.240313" transform="rotate(-0 127 437.480313)">Flux</text>
    </g>
   </g>
  </g>
 </g>
 <defs>
  <clipPath id="ped18cb847b">
   <rect x="90" y="60.48" width="227.755102" height="168.730435"/>
  </clipPath>
  <clipPath id="p2e5e7b1a41">
   <rect x="420.244898" y="60.48" width="227.755102" height="168.730435"/>
  </clipPath>
  <clipPath id="pbcfeac04f6">
   <rect x="90" y="279.829565" width="558" height="168.730435"/>
  </clipPath>
 </defs>
</svg>

</body></html>
